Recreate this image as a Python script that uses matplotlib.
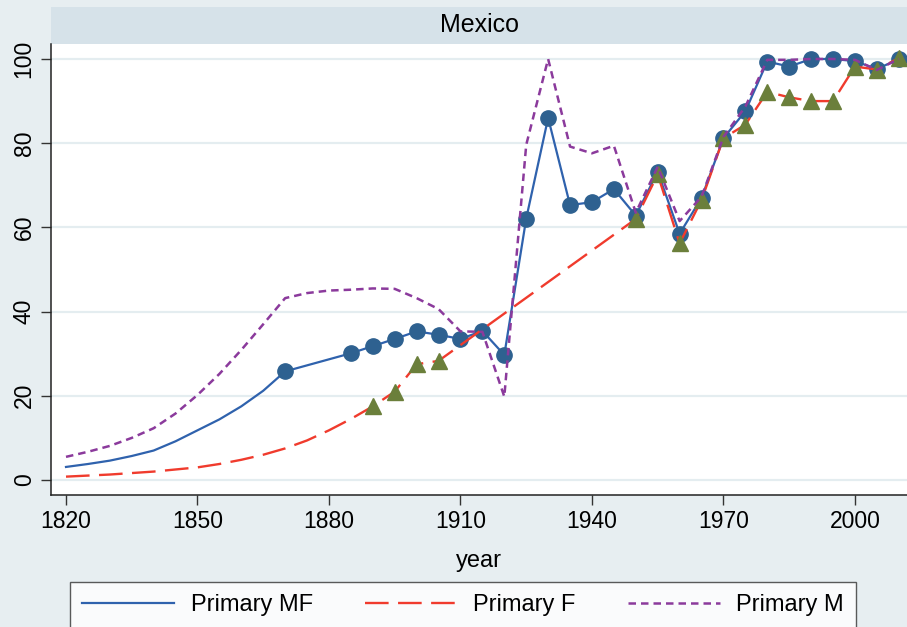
import numpy as np
import matplotlib.pyplot as plt
from matplotlib.patches import Rectangle

# Primary MF: smooth estimate up to 1865, observed points (with markers) from 1870
mf_est_years = [1820, 1825, 1830, 1835, 1840, 1845, 1850, 1855, 1860, 1865]
mf_est_vals = [3.1, 3.8, 4.6, 5.7, 7.0, 9.2, 11.8, 14.4, 17.5, 21.2]
mf_obs_years = [1870, 1885, 1890, 1895, 1900, 1905, 1910, 1915, 1920, 1925,
                1930, 1935, 1940, 1945, 1950, 1955, 1960, 1965, 1970, 1975,
                1980, 1985, 1990, 1995, 2000, 2005, 2010]
mf_obs_vals = [25.8, 30.1, 31.8, 33.5, 35.3, 34.5, 33.5, 35.4, 29.7, 62.1,
               86.0, 65.3, 66.0, 69.1, 62.8, 73.2, 58.5, 67.0, 81.2, 87.6,
               99.4, 98.2, 100.0, 100.0, 99.5, 97.6, 100.0]

# Primary F
f_est_years = [1820, 1830, 1840, 1850, 1855, 1860, 1865, 1870, 1875, 1880, 1885]
f_est_vals = [0.8, 1.3, 2.0, 3.0, 3.8, 4.8, 6.0, 7.5, 9.4, 11.8, 14.5]
f_obs_years = [1890, 1895, 1900, 1905, 1950, 1955, 1960, 1965, 1970, 1975,
               1980, 1985, 1990, 1995, 2000, 2005, 2010]
f_obs_vals = [17.5, 21.0, 27.5, 28.3, 62.0, 72.6, 56.2, 66.5, 81.2, 84.4,
              92.2, 90.9, 90.0, 90.0, 98.2, 97.5, 100.2]

# Primary M
m_years = [1820, 1825, 1830, 1835, 1840, 1845, 1850, 1855, 1860, 1865,
           1870, 1875, 1880, 1885, 1890, 1895, 1900, 1905, 1910, 1915,
           1920, 1925, 1930, 1935, 1940, 1945, 1950, 1955, 1960, 1965,
           1970, 1975, 1980, 1985, 1990, 1995, 2000, 2005, 2010]
m_vals = [5.5, 6.7, 8.1, 10.0, 12.3, 15.8, 20.2, 25.2, 30.9, 37.0,
          43.2, 44.4, 45.0, 45.2, 45.5, 45.4, 43.2, 40.6, 35.3, 35.2,
          19.8, 79.6, 100.0, 79.2, 77.6, 79.4, 63.5, 74.4, 61.5, 67.3,
          81.5, 88.7, 99.8, 99.8, 100.0, 100.0, 99.8, 97.4, 100.0]

bg = '#e7eef1'
strip = '#d6e2e9'
grid = '#e4edf0'
c_mf = '#2f62ad'
c_mf_mk = '#2e6190'
c_f = '#f03b2d'
c_f_mk = '#6b7f3b'
c_m = '#8b3a9c'

plt.rcParams['font.family'] = ['Liberation Sans', 'DejaVu Sans']

fig = plt.figure(figsize=(9.07, 6.27), dpi=100, facecolor=bg)
ax = fig.add_axes([51/907, 1-495/627, 1-51/907, (495-44)/627])
ax.set_facecolor('white')

ax.plot(mf_est_years + mf_obs_years, mf_est_vals + mf_obs_vals,
        color=c_mf, lw=1.6, zorder=3, label='Primary MF')
ax.plot(mf_obs_years, mf_obs_vals, 'o', color=c_mf_mk, ms=11, zorder=4)
ax.plot(f_est_years + f_obs_years, f_est_vals + f_obs_vals,
        color=c_f, lw=1.7, dashes=(10, 4), zorder=5, label='Primary F')
ax.plot(f_obs_years, f_obs_vals, '^', color=c_f_mk, ms=11, zorder=6)
ax.plot(m_years, m_vals, color=c_m, lw=1.8, dashes=(3, 2), zorder=7,
        label='Primary M')

ax.set_xlim(1820 + (51-66)/4.383, 1820 + (907-66)/4.383)
ax.set_ylim((480-495)/4.21, (480-44)/4.21)
ax.set_xticks(np.arange(1820, 2001, 30))
ax.set_yticks(np.arange(0, 101, 20))
ax.grid(axis='y', color=grid, lw=1.6)
ax.set_axisbelow(True)
for s in ['top', 'right']:
    ax.spines[s].set_visible(False)
for s in ['left', 'bottom']:
    ax.spines[s].set_linewidth(1.1)
    ax.spines[s].set_color('#222222')
ax.tick_params(length=7, width=1.0, color='#333333', labelsize=16.5, pad=4)
plt.setp(ax.get_yticklabels(), rotation=90, va='center')
ax.set_xlabel('year', fontsize=17, labelpad=12)

# strip title
ax.add_patch(Rectangle((0, 1), 1, 37/451, transform=ax.transAxes,
                       facecolor=strip, edgecolor='none', clip_on=False))
ax.text(0.5, 1 + 18.5/451, 'Mexico', transform=ax.transAxes,
        ha='center', va='center', fontsize=18)

leg = fig.legend(loc='upper center', bbox_to_anchor=(463/907, 1-582/627),
                 ncol=3, fontsize=17, frameon=True, fancybox=False,
                 handlelength=3.9, handletextpad=0.7, columnspacing=2.2,
                 borderpad=0.5, borderaxespad=0)
leg.get_frame().set_edgecolor('#333333')
leg.get_frame().set_linewidth(1.0)

fig.savefig('out.png', dpi=100, facecolor=bg)
